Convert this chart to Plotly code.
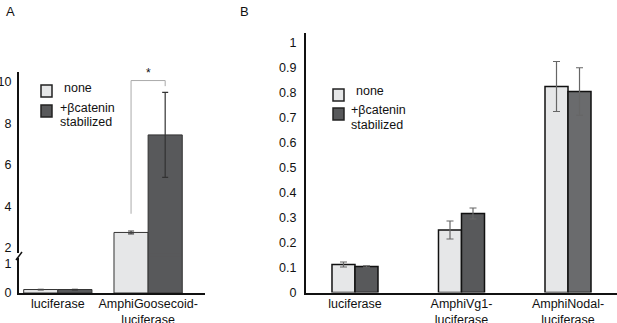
import plotly.graph_objects as go

W, H = 617, 323
FONT = "Liberation Sans, Arial, sans-serif"

# ---- data ----
cats_a = ["luciferase", "AmphiGoosecoid-<br>luciferase"]
none_a = [0.12, 2.75]
none_a_err = [0.01, 0.07]
cat_a = [0.12, 7.45]
cat_a_err = [0.01, 2.05]

cats_b = ["luciferase", "AmphiVg1-<br>luciferase", "AmphiNodal-<br>luciferase"]
none_b = [0.112, 0.25, 0.824]
none_b_err = [0.01, 0.036, 0.10]
cat_b = [0.104, 0.316, 0.804]
cat_b_err = [0.003, 0.022, 0.095]

series_names = ["none", "+βcatenin<br>stabilized"]
ticks_a_low = [0, 1]
ticks_a_high = [2, 4, 6, 8, 10]
ticks_b = [0, 0.1, 0.2, 0.3, 0.4, 0.5, 0.6, 0.7, 0.8, 0.9, 1]
ticktext_b = ["0", "0.1", "0.2", "0.3", "0.4", "0.5", "0.6", "0.7", "0.8", "0.9", "1"]

LIGHT = "#e6e7e8"
DARK = "#58595b"
DARK_B = [DARK, DARK, "#6a6b6d"]


def px(x):
    return x / W


def py(y):
    return 1 - y / H


fig = go.Figure()

wa = 0.378
for xa, ya in (("x", "y"), ("x2", "y2")):
    fig.add_trace(go.Bar(x=cats_a, y=none_a, xaxis=xa, yaxis=ya, width=wa, offset=-wa,
                         marker=dict(color=LIGHT, line=dict(color="#333", width=1)),
                         error_y=dict(type="data", array=none_a_err, color="#444", thickness=1.2, width=3),
                         showlegend=False, name=series_names[0]))
    fig.add_trace(go.Bar(x=cats_a, y=cat_a, xaxis=xa, yaxis=ya, width=wa, offset=0,
                         marker=dict(color=DARK, line=dict(color="#333", width=1)),
                         error_y=dict(type="data", array=cat_a_err, color="#333", thickness=1.2, width=3),
                         showlegend=False, name=series_names[1]))

wb = 0.216
fig.add_trace(go.Bar(x=cats_b, y=none_b, xaxis="x3", yaxis="y3", width=wb, offset=-wb,
                     marker=dict(color=LIGHT, line=dict(color="#111", width=1.5)),
                     error_y=dict(type="data", array=none_b_err, color="#666", thickness=1.2, width=3.5),
                     showlegend=False, name=series_names[0]))
fig.add_trace(go.Bar(x=cats_b, y=cat_b, xaxis="x3", yaxis="y3", width=wb, offset=0,
                     marker=dict(color=DARK_B, line=dict(color="#111", width=1.5)),
                     error_y=dict(type="data", array=cat_b_err, color="#666", thickness=1.2, width=3.5),
                     showlegend=False, name=series_names[1]))

tickfont = dict(family=FONT, size=12.5, color="#111")
axline = dict(showline=True, linecolor="#111", linewidth=2, showgrid=False, zeroline=False,
              ticks="", automargin=False)

# panel A geometry (pixels)
a_left, a_right = 19, 205
a_base, a_split, a_top = 293, 255, 72
low_ppu = 29.0
high_ppu = 20.75
y2_at = 248  # pixel of value 2
low_range = [0, (a_base - a_split) / low_ppu]
high_range = [2 - (a_split - y2_at) / high_ppu, 10 + (82 - a_top) / high_ppu]

fig.update_layout(
    template="none",
    width=W, height=H, margin=dict(l=0, r=0, t=0, b=0, pad=0),
    paper_bgcolor="white", plot_bgcolor="white",
    font=dict(family=FONT, size=12.5, color="#111"),
    xaxis=dict(domain=[px(a_left), px(a_right)], anchor="y", type="category",
               range=[-0.43, 1.63], tickfont=tickfont, ticklabelstandoff=-2, **axline),
    yaxis=dict(domain=[py(a_base), py(a_split)], anchor="x", range=low_range,
               tickvals=ticks_a_low, tickfont=tickfont, ticklabelstandoff=3, **axline),
    xaxis2=dict(domain=[px(a_left), px(a_right)], anchor="y2", type="category",
                range=[-0.43, 1.63], showticklabels=False, showline=False, showgrid=False,
                zeroline=False, ticks="", automargin=False),
    yaxis2=dict(domain=[py(a_split), py(a_top)], anchor="x2", range=high_range,
                tickvals=ticks_a_high, tickfont=tickfont, ticklabelstandoff=3, **axline),
    xaxis3=dict(domain=[px(306), 1.0], anchor="y3", type="category",
                range=[-0.46, 2.46], tickfont=tickfont, ticklabelstandoff=-2, **axline),
    yaxis3=dict(domain=[py(292.5), py(33)], anchor="x3", range=[0, (292.5 - 33) / 250],
                tickvals=ticks_b, ticktext=ticktext_b, tickfont=tickfont, ticklabelstandoff=5, **axline),
)

shapes = []
annots = []

# hide clamped bar edges at the axis break (cover strip in bar colour)
inset = 1.2 / 90
for off, col in ((-wa, LIGHT), (0, DARK)):
    shapes.append(dict(type="rect", xref="x2", yref="paper",
                       x0=1 + off + inset, x1=1 + off + wa - inset,
                       y0=py(a_split + 1.5), y1=py(a_split - 1.5),
                       fillcolor=col, line=dict(width=0), layer="above"))

# axis break marker on panel A
shapes.append(dict(type="rect", xref="paper", yref="paper", x0=px(16), x1=px(22),
                   y0=py(258), y1=py(253), fillcolor="white", line=dict(width=0), layer="above"))
shapes.append(dict(type="line", xref="paper", yref="paper", x0=px(16), y0=py(260),
                   x1=px(22), y1=py(252), line=dict(color="#111", width=1.5), layer="above"))

# significance bracket
shapes.append(dict(type="path", xref="x2", yref="y2",
                   path="M %f,3.65 L %f,10.07 L %f,10.07 L %f,9.8" % (1 - wa / 2, 1 - wa / 2, 1 + wa / 2, 1 + wa / 2),
                   line=dict(color="#aaa", width=1)))
annots.append(dict(xref="x2", yref="y2", x=1, y=10.45, text="*", showarrow=False,
                   font=dict(size=12, color="#111")))


# legends (drawn as swatches + text)
def legend(x0, y_none, y_cat, tx_none, tx_cat, y_txt_none, y_txt_cat, y_txt_cat2):
    shapes.append(dict(type="rect", xref="paper", yref="paper", x0=px(x0), x1=px(x0 + 11),
                       y0=py(y_none + 12), y1=py(y_none), fillcolor=LIGHT,
                       line=dict(color="#222", width=1.5)))
    shapes.append(dict(type="rect", xref="paper", yref="paper", x0=px(x0), x1=px(x0 + 11),
                       y0=py(y_cat + 12), y1=py(y_cat), fillcolor=DARK,
                       line=dict(color="#222", width=1.5)))
    annots.append(dict(xref="paper", yref="paper", x=px(tx_none), y=py(y_txt_none), text=series_names[0],
                       showarrow=False, xanchor="left", yanchor="middle", font=dict(size=12.5)))
    annots.append(dict(xref="paper", yref="paper", x=px(tx_cat), y=py(y_txt_cat), text="+βcatenin",
                       showarrow=False, xanchor="left", yanchor="middle", font=dict(size=12.5)))
    annots.append(dict(xref="paper", yref="paper", x=px(tx_cat), y=py(y_txt_cat2), text="stabilized",
                       showarrow=False, xanchor="left", yanchor="middle", font=dict(size=12.5)))


legend(41, 85, 105, 62, 58, 88, 108, 122)
legend(333, 89, 108, 354, 349, 91, 110, 125)

# panel letters
annots.append(dict(xref="paper", yref="paper", x=px(4), y=py(12), text="A", showarrow=False,
                   xanchor="left", yanchor="middle", font=dict(size=13)))
annots.append(dict(xref="paper", yref="paper", x=px(238), y=py(12), text="B", showarrow=False,
                   xanchor="left", yanchor="middle", font=dict(size=13)))

fig.update_layout(shapes=shapes, annotations=annots)
fig.write_html("out.html", config={"displayModeBar": False},
               post_script="document.body.style.margin='0';document.body.style.overflow='hidden';")
